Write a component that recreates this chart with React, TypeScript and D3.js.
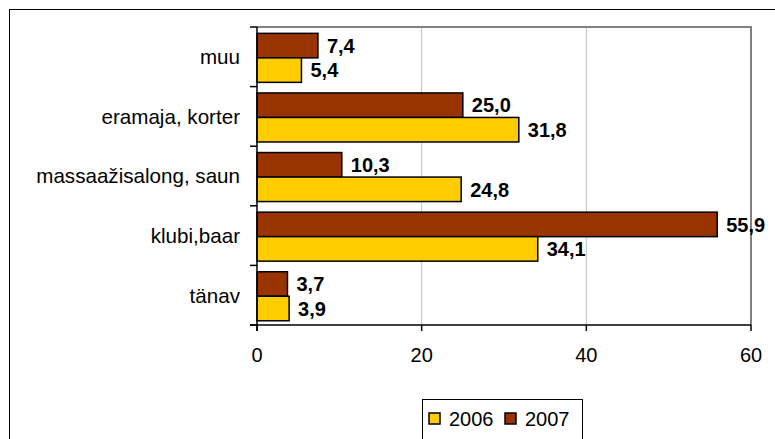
import React, { useEffect, useRef } from 'react';
import * as d3 from 'd3';

const categories = ['muu', 'eramaja, korter', 'massaažisalong, saun', 'klubi,baar', 'tänav'];
const seriesNames = ['2007', '2006'];
const values2007 = [7.4, 25.0, 10.3, 55.9, 3.7];
const values2006 = [5.4, 31.8, 24.8, 34.1, 3.9];
const xTicks = [0, 20, 40, 60];
const legendOrder = ['2006', '2007'];

const colors: Record<string, string> = { '2006': '#FFCC00', '2007': '#993300' };
const FONT = 'Arial, "Liberation Sans", sans-serif';

export default function App() {
  const svgRef = useRef<SVGSVGElement | null>(null);

  useEffect(() => {
    document.body.style.margin = '0';
    const svg = d3.select(svgRef.current);
    svg.selectAll('*').remove();

    const W = 775, H = 439;
    const left = 257, right = 751, top = 27, bottom = 325;

    svg.append('rect').attr('width', W).attr('height', H).attr('fill', '#fff');
    // outer chart frame (cut off at right and bottom)
    svg.append('rect')
      .attr('x', 9.5).attr('y', 9.5).attr('width', 820).attr('height', 480)
      .attr('fill', 'none').attr('stroke', '#000').attr('stroke-width', 1);

    const x = d3.scaleLinear().domain([0, 60]).range([left, right]);
    const y = d3.scaleBand<string>().domain(categories).range([top, bottom]).padding(0);
    const inner = d3.scaleBand<string>().domain(seriesNames).range([0, y.bandwidth()])
      .paddingInner(0).paddingOuter(0.216).align(0.6);

    // gridlines
    svg.append('g').selectAll('line')
      .data(xTicks.filter(t => t > 0 && t < 60))
      .join('line')
      .attr('x1', d => x(d)).attr('x2', d => x(d))
      .attr('y1', top).attr('y2', bottom)
      .attr('stroke', '#c0c0c0').attr('stroke-width', 1);

    // plot border top + right
    svg.append('path')
      .attr('d', `M${left},${top} H${right} V${bottom}`)
      .attr('fill', 'none').attr('stroke', '#808080').attr('stroke-width', 2);

    const rows = categories.map((c, i) => ({ cat: c, s: [
      { name: '2007', v: values2007[i] },
      { name: '2006', v: values2006[i] },
    ] }));

    const fmt = d3.format('.1f');
    const g = svg.append('g');
    rows.forEach(r => {
      r.s.forEach(s => {
        const y0 = (y(r.cat) ?? 0) + (inner(s.name) ?? 0);
        g.append('rect')
          .attr('x', x(0)).attr('y', y0)
          .attr('width', x(s.v) - x(0)).attr('height', inner.bandwidth())
          .attr('fill', colors[s.name]).attr('stroke', '#000').attr('stroke-width', 1.5);
        g.append('text')
          .attr('x', x(s.v) + 9).attr('y', y0 + inner.bandwidth() / 2)
          .attr('dy', '0.36em')
          .attr('font-family', FONT).attr('font-size', 20).attr('font-weight', 'bold')
          .attr('fill', '#000')
          .text(fmt(s.v).replace('.', ','));
      });
    });

    // y axis
    const ya = svg.append('g');
    ya.append('line').attr('x1', left).attr('x2', left).attr('y1', top).attr('y2', bottom + 6)
      .attr('stroke', '#000').attr('stroke-width', 1.5);
    const bounds = [...categories.map(c => y(c) ?? 0), bottom];
    ya.selectAll('line.t').data(bounds).join('line').attr('class', 't')
      .attr('x1', left - 7).attr('x2', left).attr('y1', d => d).attr('y2', d => d)
      .attr('stroke', '#000').attr('stroke-width', 1.5);
    ya.selectAll('text').data(categories).join('text')
      .attr('x', 240).attr('y', d => (y(d) ?? 0) + y.bandwidth() / 2)
      .attr('dy', '0.36em').attr('text-anchor', 'end')
      .attr('font-family', FONT).attr('font-size', 20.6).attr('fill', '#000')
      .text(d => d);

    // x axis
    const xa = svg.append('g');
    xa.append('line').attr('x1', left - 7).attr('x2', right).attr('y1', bottom).attr('y2', bottom)
      .attr('stroke', '#000').attr('stroke-width', 1.5);
    xa.selectAll('line.t').data(xTicks).join('line').attr('class', 't')
      .attr('x1', d => x(d)).attr('x2', d => x(d)).attr('y1', bottom).attr('y2', bottom + 6)
      .attr('stroke', '#000').attr('stroke-width', 1.5);
    xa.selectAll('text').data(xTicks).join('text')
      .attr('x', d => x(d)).attr('y', 362).attr('text-anchor', 'middle')
      .attr('font-family', FONT).attr('font-size', 20).attr('fill', '#000')
      .text(d => String(d));

    // legend
    const lg = svg.append('g');
    lg.append('rect').attr('x', 422.5).attr('y', 399.5).attr('width', 160).attr('height', 60)
      .attr('fill', '#fff').attr('stroke', '#000').attr('stroke-width', 1);
    const lx = [429, 505];
    legendOrder.forEach((n, i) => {
      lg.append('rect').attr('x', lx[i]).attr('y', 413).attr('width', 11).attr('height', 11)
        .attr('fill', colors[n]).attr('stroke', '#000').attr('stroke-width', 1.5);
      lg.append('text').attr('x', lx[i] + 20).attr('y', 425.5)
        .attr('font-family', FONT).attr('font-size', 20).attr('fill', '#000')
        .text(n);
    });
  }, []);

  return (
    <svg ref={svgRef} width={775} height={439}
      style={{ position: 'fixed', left: 0, top: 0, display: 'block' }} />
  );
}
